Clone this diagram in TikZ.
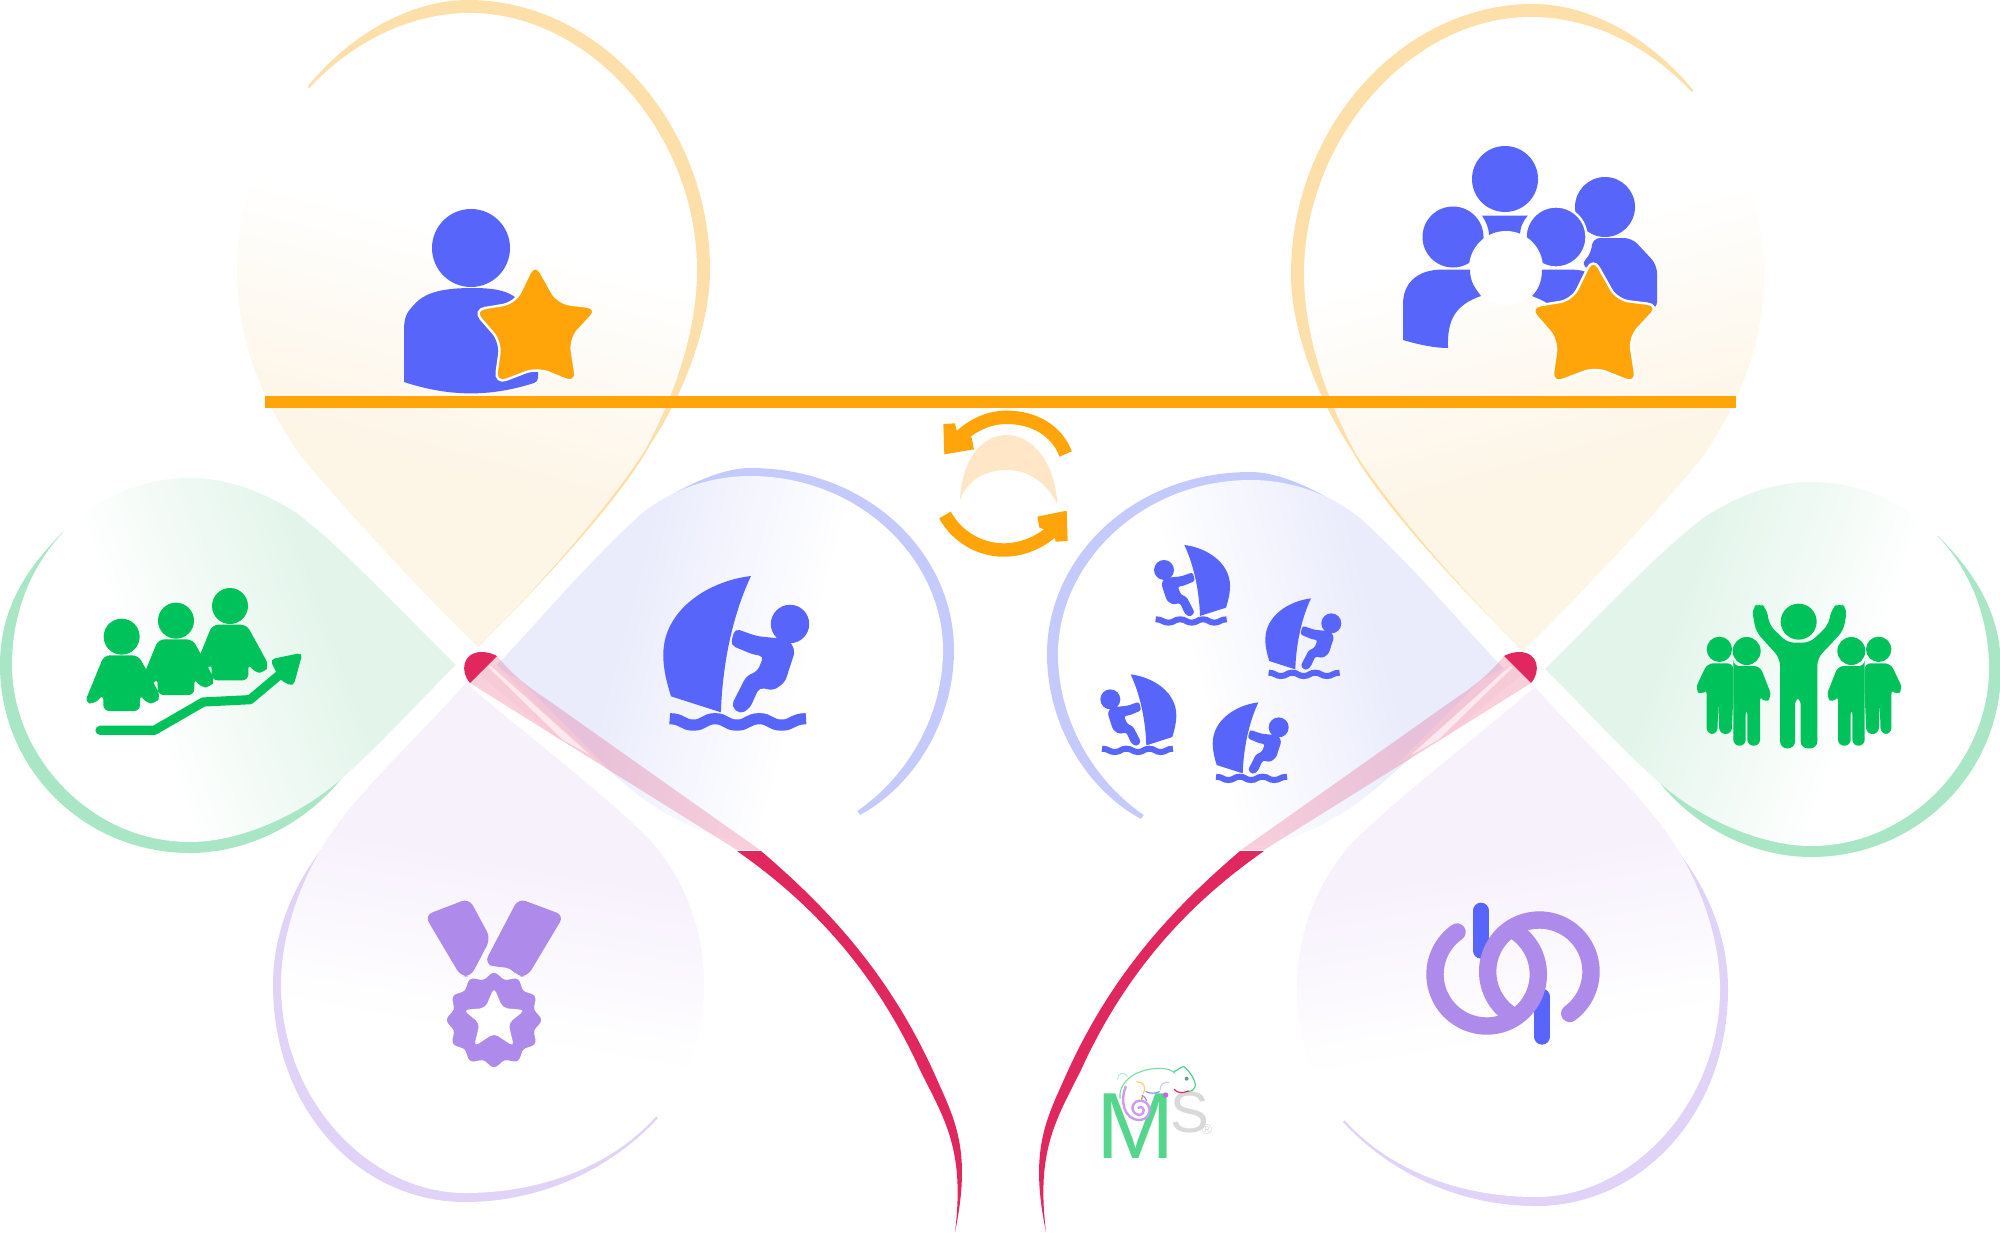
\documentclass[tikz,border=0pt]{standalone}
\usepackage{fontspec}
\setmainfont{Liberation Sans}
\definecolor{oband}{HTML}{FDDFA9}
\definecolor{bband}{HTML}{C5CAFD}
\definecolor{gband}{HTML}{A9E6C5}
\definecolor{lband}{HTML}{E1D3F8}
\definecolor{ofill}{HTML}{FDF5E6}
\definecolor{bfill}{HTML}{EAECFC}
\definecolor{gfill}{HTML}{E3F5EB}
\definecolor{lfill}{HTML}{F7F1FC}
\definecolor{icb}{HTML}{5865FB}
\definecolor{icg}{HTML}{00C25A}
\definecolor{icl}{HTML}{AE8BEB}
\definecolor{ico}{HTML}{FFA50A}
\definecolor{crim}{HTML}{E0275E}
\definecolor{lens}{HTML}{FFE6C6}
\definecolor{logoG}{HTML}{55D68D}
\pgfdeclareverticalshading{oshade}{100bp}{color(0bp)=(ofill);color(38bp)=(ofill);color(58bp)=(white);color(100bp)=(white)}
\pgfdeclareverticalshading{gshade}{100bp}{color(0bp)=(white);color(38bp)=(white);color(62bp)=(gfill);color(100bp)=(gfill)}
\pgfdeclareverticalshading{bshade}{100bp}{color(0bp)=(white);color(40bp)=(white);color(62bp)=(bfill);color(100bp)=(bfill)}
\pgfdeclareverticalshading{lshade}{100bp}{color(0bp)=(white);color(40bp)=(white);color(58bp)=(lfill);color(100bp)=(lfill)}
\newcommand\orangepetal[1]{%
 \fill[oband] (478,647) .. controls (540,585) and (620,500) .. (650,445) .. controls (680,400) and (710,330) .. (710,270) .. controls (710,125) and (600,0) .. (468,0) .. controls (410,0) and (350,35) .. (308,86) -- cycle;
 \path[shading=oshade,shading angle=#1] (478,647) .. controls (540,585) and (610,505) .. (645,450) .. controls (675,395) and (697,330) .. (697,270) .. controls (697,135) and (590,13) .. (470,13) .. controls (350,13) and (237,130) .. (237,270) .. controls (237,340) and (262,400) .. (300,455) .. controls (350,515) and (420,590) .. (478,647) -- cycle;}
\newcommand\greenpetal[1]{%
 \fill[gband] (63,532) .. controls (25,570) and (0,610) .. (0,665) .. controls (0,770) and (85,853) .. (190,853) .. controls (240,853) and (300,830) .. (342,778) -- cycle;
 \path[shading=gshade,shading angle=#1] (456,665) .. controls (400,610) and (340,545) .. (295,512) .. controls (260,490) and (225,478) .. (190,478) .. controls (90,478) and (12,560) .. (12,665) .. controls (12,755) and (90,842) .. (190,842) .. controls (240,842) and (300,815) .. (340,780) .. controls (380,745) and (420,700) .. (456,665) -- cycle;}
\newcommand\bluepetal[1]{%
 \fill[bband] (655,505) .. controls (690,482) and (725,468) .. (750,468) .. controls (870,468) and (954,555) .. (954,650) .. controls (954,720) and (915,785) .. (860,815) -- cycle;
 \path[shading=bshade,shading angle=#1] (497,665) .. controls (540,620) and (590,560) .. (640,515) .. controls (670,490) and (710,476) .. (750,476) .. controls (860,476) and (943,560) .. (943,650) .. controls (943,750) and (860,842) .. (760,842) .. controls (710,842) and (660,815) .. (620,780) .. controls (580,745) and (530,700) .. (497,665) -- cycle;}
\newcommand\lilacpetal[1]{%
 \fill[lband] (332,836) .. controls (295,880) and (273,930) .. (273,985) .. controls (273,1110) and (360,1202) .. (465,1202) .. controls (540,1202) and (610,1170) .. (658,1118) -- cycle;
 \path[shading=lshade,shading angle=#1] (466,683) .. controls (420,735) and (360,790) .. (330,835) .. controls (300,880) and (281,935) .. (281,985) .. controls (281,1100) and (370,1193) .. (465,1193) .. controls (590,1193) and (704,1120) .. (704,985) .. controls (704,930) and (685,880) .. (650,840) .. controls (600,790) and (520,730) .. (466,683) -- cycle;}
\newcommand\ribbon{%
 \fill[crim,opacity=.22] (497,656) .. controls (510,672) and (525,685) .. (545,698) -- (760,850) -- (737,850) -- (593,760) -- (470,683) -- cycle;
 \fill[crim!25,opacity=.75] (480,675) -- (488,663) -- (520,680) -- (607,767) -- (553,735) -- cycle;
 \fill[white,opacity=.6] (488,667) -- (491,666) -- (590,755) -- (563,740) -- cycle;
 \fill[crim] (470,683) .. controls (460,672) and (462,652) .. (482,652) .. controls (488,652) and (493,654) .. (497,656) -- cycle;
 \fill[crim] (737,851) .. controls (800,895) and (870,960) .. (920,1070) .. controls (945,1120) and (965,1150) .. (955,1232) .. controls (972,1150) and (955,1120) .. (935,1075) .. controls (890,975) and (830,910) .. (761,851) -- cycle;}
\newcommand\rstar[3]{%
 \begin{scope}[shift={(#1,#2)},scale=#3]
 \draw[white,line width=1.2pt,fill=ico,rounded corners=6pt] (0,-68) -- (23,-27) -- (64,-22) -- (35,9) -- (42,54) -- (2,38) -- (-40,54) -- (-34,12) -- (-62,-20) -- (-20,-27) -- cycle;
 \end{scope}}
\newcommand\sailor[6]{%
 \begin{scope}[shift={(#1,#2)},xscale=#3,yscale=#4]
 \fill[icb] (137,2) .. controls (70,10) and (0,55) .. (0,125) .. controls (0,150) and (6,170) .. (12,190) -- (90,215) .. controls (92,150) and (105,70) .. (137,2) -- cycle;
 \fill[icb] (198,77) circle[radius=30];
 \fill[icb,rounded corners=#6] (112,84) -- (146,96) -- (196,101) -- (206,119) -- (190,168) -- (172,181) -- (150,176) -- (135,209) -- (120,218) -- (106,205) -- (130,158) -- (147,151) -- (157,127) -- (141,125) -- (105,110) -- cycle;
 \draw[icb,line width=#5] (10,225) .. controls (30,225) and (30,235) .. (47,235) .. controls (64,235) and (64,225) .. (81,225) .. controls (98,225) and (98,235) .. (115,235) .. controls (132,235) and (132,225) .. (150,225) .. controls (167,225) and (167,235) .. (185,235) .. controls (202,235) and (202,225) .. (223,225);
 \end{scope}}
\newcommand\gperson[2]{%
 \begin{scope}[shift={(#1,#2)}]
 \fill[icg] (185,200) circle[radius=54];
 \fill[icg,rounded corners=3pt] (132,256) -- (235,256) -- (302,378) -- (288,400) -- (258,400) -- (240,372) -- (240,423) -- (130,423) -- (130,372) -- (105,402) -- (74,398) -- cycle;
 \end{scope}}
\newcommand\sideA{%
 \fill[icg] (200,213) circle[radius=42];
 \fill[icg,rounded corners=3pt] (160,258) -- (240,258) -- (276,350) -- (255,370) -- (240,345) -- (240,497) -- (202,497) -- (202,385) -- (197,385) -- (197,497) -- (160,497) -- (160,258) -- cycle;
 \fill[icg] (118,208) circle[radius=38];
 \fill[icg,rounded corners=3pt] (82,250) -- (160,250) -- (160,345) -- (155,462) -- (118,462) -- (115,365) -- (112,462) -- (80,462) -- (80,325) -- (65,347) -- (45,328) -- cycle;}
\begin{document}
\begin{tikzpicture}[x=0.5pt,y=-0.5pt]
\useasboundingbox (0,0) rectangle (2000,1232);
\fill[white] (0,0) rectangle (2000,1232);
% petals left
\orangepetal{-15}
\greenpetal{-70}
\lilacpetal{-10}
\bluepetal{75}
% petals right
\begin{scope}[shift={(2001,4)},xscale=-1]
\orangepetal{15}
\greenpetal{70}
\lilacpetal{10}
\bluepetal{-75}
\end{scope}
% ribbons
\ribbon
\begin{scope}[shift={(2001,0)},xscale=-1]
\ribbon
\end{scope}
% bar
\fill[ico] (265,395.5) rectangle (1736,407.5);
% person with star
\fill[icb] (471,248) circle[radius=39];
\fill[icb] (404,382) -- (404,330) .. controls (404,318) and (407,312) .. (412,307) .. controls (422,295) and (435,288) .. (473,288) .. controls (495,288) and (508,291) .. (516,298) -- (538,340) -- (538,378) .. controls (538,381) and (536,382) .. (534,383) .. controls (490,397) and (450,397) .. (404,382) -- cycle;
\rstar{535}{330}{1}
% group with star
\fill[icb] (1605,207) circle[radius=30];
\fill[icb,rounded corners=4pt] (1592,238) -- (1632,238) -- (1657,265) -- (1657,310) -- (1610,300) -- (1592,268) -- (1580,266) -- (1592,252) -- cycle;
\draw[white,line width=1.2pt,fill=icb] (1556,237) circle[radius=30.5];
\fill[icb] (1505,179) circle[radius=33];
\fill[icb] (1482,215.5) -- (1528,215.5) .. controls (1522,222) and (1520,228) .. (1520,236) -- (1489,236) .. controls (1489,228) and (1486,222) .. (1482,215.5) -- cycle;
\fill[icb] (1453,237) circle[radius=30.5];
\fill[white] (1506,268) circle[radius=37];
\fill[icb] (1470,269.5) -- (1443,269.5) .. controls (1415,269.5) and (1403,285) .. (1403,304) -- (1403,340) .. controls (1420,345) and (1435,348) .. (1448,348) .. controls (1447,320) and (1455,305) .. (1481,296) .. controls (1475,288) and (1470,282) .. (1470,269.5) -- cycle;
\fill[icb] (1542,269.5) -- (1565,269.5) .. controls (1575,269.5) and (1582,270) .. (1586,272) -- (1570,300) -- (1547,303) .. controls (1542,300) and (1537,298) .. (1532,296) .. controls (1538,290) and (1542,282) .. (1542,269.5) -- cycle;
\rstar{1593}{328}{1.04}
% green group left
\begin{scope}[shift={(60,570)},scale=1/3]
\gperson{325}{-92}
\gperson{163}{-48}
\gperson{0}{0}
\draw[icg,line width=4.6pt,line cap=round,line join=round] (120,481) -- (283,481) -- (430,396) -- (570,389) -- (670,305);
\fill[icg,rounded corners=2.5pt] (630,268) -- (728,248) -- (700,350) -- (660,330) -- cycle;
\end{scope}
% green group right
\begin{scope}[shift={(1680,580)},scale=1/3]
\sideA
\begin{scope}[shift={(714,0)},xscale=-1]
\sideA
\end{scope}
\fill[icg] (356,125) circle[radius=54];
\fill[icg,rounded corners=3.5pt] (215,85) -- (238,68) -- (260,85) -- (268,135) -- (322,188) -- (390,188) -- (445,135) -- (455,85) -- (478,68) -- (502,85) -- (490,152) -- (412,235) -- (412,505) -- (362,505) -- (362,352) -- (345,352) -- (345,505) -- (300,505) -- (300,235) -- (228,155) -- cycle;
\end{scope}
% medal
\begin{scope}[shift={(400,880)},scale=1/3]
\fill[icl,rounded corners=4pt] (74,106) -- (207,55) -- (272,175) -- (212,290) -- (183,290) -- cycle;
\fill[icl,rounded corners=4pt] (355,55) -- (492,106) -- (382,290) -- (350,290) -- (335,262) -- (290,262) -- (253,250) -- cycle;
\draw[white,line width=.8pt,fill=icl] plot[domain=0:360,samples=145] ({282+(136+8*cos(12*\x))*cos(\x)},{420+(136+8*cos(12*\x))*sin(\x)}) -- cycle;
\fill[white,rounded corners=2.5pt] (282,322) -- (308,384) -- (375,390) -- (325,430) -- (342,500) -- (282,460) -- (222,500) -- (239,430) -- (190,390) -- (256,384) -- cycle;
\end{scope}
% rings
\begin{scope}[shift={(1400,880)},scale=1/3]
\draw[icb,line width=8pt,line cap=round] (243,92) -- (243,212);
\draw[icb,line width=8pt,line cap=round] (426,350) -- (426,470);
\draw[icl,line width=8.7pt,line cap=round] plot[domain=235:-55,samples=80] ({260+155*cos(\x)},{283+155*sin(\x)});
\draw[icl,line width=8.7pt,line cap=round] plot[domain=54:-235,samples=80] ({418+155*cos(\x)},{275+155*sin(\x)});
\end{scope}
% cycle arrows
\begin{scope}[shift={(900,390)},scale=1/3]
\fill[lens] (180,330) .. controls (185,210) and (245,135) .. (320,135) .. controls (400,135) and (465,220) .. (472,342) .. controls (440,280) and (390,240) .. (320,240) .. controls (250,240) and (200,275) .. (180,330) -- cycle;
\draw[ico,line width=6.7pt] (497,192) .. controls (470,120) and (400,82) .. (320,82) .. controls (260,82) and (210,110) .. (170,150);
\fill[ico] (130,102) -- (165,100) -- (170,122) -- (215,143) -- (222,178) -- (133,193) -- cycle;
\draw[ico,line width=6.7pt] (135,375) .. controls (170,440) and (240,480) .. (310,480) .. controls (370,480) and (420,455) .. (455,425);
\fill[ico] (412,380) -- (500,362) -- (503,453) -- (467,455) -- (462,432) -- (418,412) -- cycle;
\end{scope}
% sailors
\sailor{663.3}{574.7}{.64}{.64}{5.6pt}{2.5pt}
\sailor{1212.7}{701.7}{.3333}{.3333}{3pt}{1.2pt}
\sailor{1265.3}{597.7}{.3333}{.3333}{3pt}{1.2pt}
\sailor{1230}{544.3}{-.3333}{.3333}{3pt}{1.2pt}
\sailor{1176.3}{673.7}{-.3333}{.3333}{3pt}{1.2pt}
% logo
\node[text=logoG,font=\fontsize{47}{47}\selectfont,inner sep=0pt] (logoM) at (1136,1126) {\kern-.08em M\kern-.08em};
\node[text=black!15,font=\fontsize{29}{29}\selectfont,inner sep=0pt] (logoS) at (1190,1113) {S};
\node[text=black!15,font=\fontsize{7}{7}\selectfont,inner sep=0pt] (logoR) at (1207,1130) {®};
\begin{scope}[shift={(1060,1040)},scale=1/3,line cap=round]
\draw[icg!55!white,line width=.55pt] (180,175) .. controls (175,120) and (235,85) .. (300,85) .. controls (320,85) and (335,90) .. (345,100);
\draw[icg!75!white,line width=.55pt] (342,95) .. controls (355,90) and (362,80) .. (372,80) .. controls (390,95) and (410,125) .. (405,140) .. controls (400,150) and (395,155) .. (385,155);
\draw[icg!30!white,line width=.45pt] (172,118) .. controls (175,100) and (190,92) .. (202,110);
\fill[icg!50!black!60!white] (380,116) circle[radius=6];
\draw[crim,line width=.6pt] (343,148) .. controls (350,160) and (370,160) .. (385,153);
\draw[icl!70!white!90!magenta,line width=1.2pt] (197,140) .. controls (180,180) and (190,240) .. (240,240) .. controls (275,238) and (280,190) .. (245,182) .. controls (215,178) and (205,220) .. (238,225) .. controls (258,222) and (255,195) .. (235,203);
\draw[ico!60!white,line width=.5pt] (230,125) .. controls (250,125) and (260,140) .. (250,160);
\draw[ico,line width=.7pt] (247,170) -- (245,178);
\draw[icb!70!white,line width=.6pt] (246,165) .. controls (252,170) and (258,175) .. (260,182);
\draw[icb!70!white,line width=.6pt] (258,155) .. controls (270,162) and (290,160) .. (298,155);
\draw[icb!35!white,line width=.5pt] (300,150) .. controls (300,130) and (315,125) .. (327,128);
\fill[icl!70!magenta] (317,165) circle[radius=8];
\end{scope}
\end{tikzpicture}
\end{document}
